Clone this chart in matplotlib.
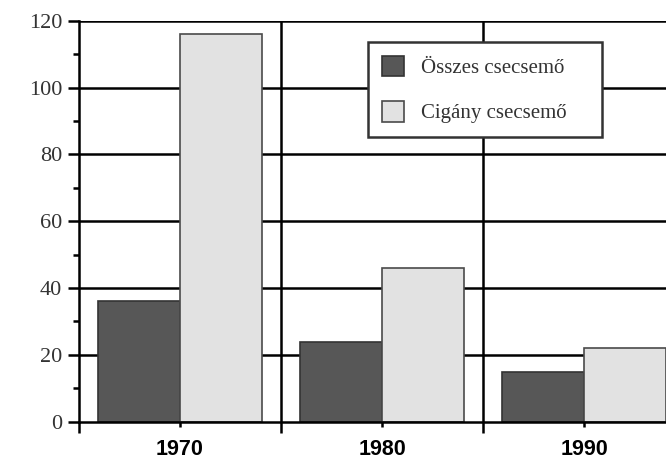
import numpy as np
import matplotlib.pyplot as plt
from matplotlib.ticker import MultipleLocator

# adatok
years = ['1970', '1980', '1990']
osszes = [36, 24, 15]
cigany = [116, 46, 22]
labels = ['Összes csecsemő', 'Cigány csecsemő']

fig = plt.figure(figsize=(6.66, 4.61), dpi=100)
ax = fig.add_axes([79 / 666, 39.3 / 461, 1 - 79 / 666, 401 / 461])

x = np.arange(len(years)) + 0.5
w = 0.405
ax.bar(x - w / 2, osszes, w, color='#575757', edgecolor='#333333', lw=1.2,
       label=labels[0], zorder=3)
ax.bar(x + w / 2, cigany, w, color='#e2e2e2', edgecolor='#4a4a4a', lw=1.2,
       label=labels[1], zorder=3)

ax.set_ylim(0, 120)
ax.set_xlim(0, (666 - 79) / 202)

# rács
for y in range(20, 121, 20):
    ax.axhline(y, color='black', lw=1.8, zorder=1)
for b in [1, 2]:
    ax.axvline(b, color='black', lw=1.8, zorder=1)

for s in ['top', 'right']:
    ax.spines[s].set_visible(False)
ax.spines['left'].set_linewidth(1.8)
ax.spines['bottom'].set_linewidth(1.8)
ax.spines['left'].set_zorder(4)
ax.spines['bottom'].set_zorder(4)

ax.yaxis.set_major_locator(MultipleLocator(20))
ax.yaxis.set_minor_locator(MultipleLocator(10))
ax.tick_params(axis='y', which='major', length=8, width=1.8, direction='out', pad=4)
ax.tick_params(axis='y', which='minor', length=4.3, width=1.8, direction='out')
for t in ax.get_yticklabels():
    t.set_fontfamily('Liberation Serif')
    t.set_fontsize(16)
    t.set_color('#333333')

# x tengely: határokon hosszú, közepeken rövid jelölés
ax.set_xticks([0, 1, 2])
ax.set_xticklabels([])
ax.tick_params(axis='x', which='major', length=8, width=1.8, direction='out')
ax.set_xticks(x, minor=True)
ax.set_xticklabels(years, minor=True, fontfamily='Liberation Sans',
                   fontweight='bold', fontsize=15.5)
ax.tick_params(axis='x', which='minor', length=3.6, width=1.8, direction='out', pad=9)

top = 1 - 42 / 461
leg = ax.legend(loc='upper left',
                bbox_to_anchor=(368 / 666, top - 0.01, 234 / 666, 0.01),
                bbox_transform=fig.transFigure, borderaxespad=0, mode='expand',
                prop={'family': 'Liberation Serif', 'size': 15},
                frameon=True, fancybox=False, edgecolor='#333333',
                framealpha=1, borderpad=0.65, labelspacing=1.1,
                handlelength=1.1, handleheight=1.15, handletextpad=0.8)
leg.get_frame().set_linewidth(1.8)
leg.set_zorder(5)
for t in leg.get_texts():
    t.set_color('#333333')

fig.savefig('out.png', dpi=100)
